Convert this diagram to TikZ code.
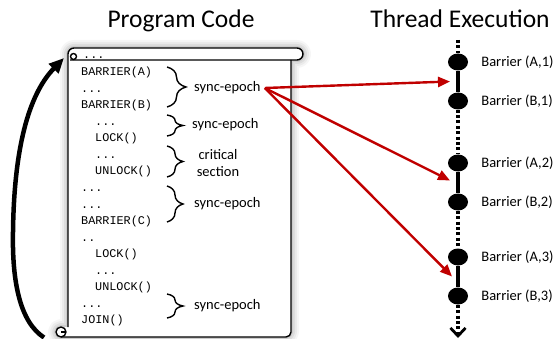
\documentclass[tikz,border=0pt]{standalone}
\usepackage{fontspec}
\setmainfont{Carlito}
\setmonofont{Liberation Mono}
\usetikzlibrary{arrows.meta,calc,decorations.pathreplacing,shapes.geometric,positioning}
\definecolor{arrowred}{HTML}{C00000}

% outer outline of the scroll (used for the soft shadow and the white paper)
\newcommand\scrollshape{(68,54) .. controls (68,50.7) and (70.7,48) .. (74,48) -- (297,48)
  .. controls (300.3,48) and (303,50.7) .. (303,54) .. controls (303,57.3) and (300.3,60) .. (297,60)
  -- (291,60) -- (291,332) .. controls (291,334.8) and (288.8,337) .. (286,337) -- (61,337)
  .. controls (58.2,337) and (56,334.8) .. (56,332) .. controls (56,329.2) and (58.2,327) .. (61,327)
  -- (68,327) -- cycle}

\begin{document}
\begin{tikzpicture}[x=1pt,y=-1pt,
  title/.style={font=\fontsize{25.5}{30}\selectfont, anchor=base, inner sep=0},
  code/.style={font=\ttfamily\fontsize{11.8}{14}\selectfont, anchor=base west, inner sep=0},
  lbl/.style={font=\fontsize{14.5}{16.5}\selectfont, anchor=west, inner sep=0},
  blabel/.style={font=\fontsize{14.5}{16.5}\selectfont, anchor=west, inner sep=0},
  scrollline/.style={draw=black, line width=1.4pt, line join=round},
  epochbrace/.style={decorate, decoration={brace, amplitude=#1}, line width=1.4pt},
  dot/.style={ellipse, fill=black, minimum width=20pt, minimum height=17pt, inner sep=0},
  solidseg/.style={line width=4pt},
  dotseg/.style={line width=4pt, dash pattern=on 3pt off 2.4pt},
  redarrow/.style={draw=arrowred, line width=2.4pt, -{Triangle[length=12pt,width=10pt]}},
  looparrow/.style={line width=4.5pt, -{Triangle[length=15pt,width=13pt]}}
]
\useasboundingbox (0,0) rectangle (556,339);

% ---- titles ----
\node[title] (pctitle) at (181,28) {Program Code};
\node[title] (tetitle) at (460,28) {Thread Execution};

% ---- scroll: shadow, paper, outline ----
\foreach \w/\o in {16/0.035,12/0.045,8/0.06,4/0.08}{
  \draw[line width=\w pt, black, opacity=\o, line join=round] \scrollshape;
}
\fill[white] \scrollshape;
\draw[scrollline] (68,327) -- (68,54) .. controls (68,50.7) and (70.7,48) .. (74,48) -- (297,48)
  .. controls (300.3,48) and (303,50.7) .. (303,54) .. controls (303,57.3) and (300.3,60) .. (297,60)
  -- (70,60);
\draw[scrollline] (73.5,56.5) circle[radius=3];
\draw[scrollline] (291,60) -- (291,332) .. controls (291,334.8) and (288.8,337) .. (286,337) -- (61,337);
\draw[scrollline] (61,332) circle[radius=5];
\draw[scrollline] (61,332) -- (66,332);

% ---- program text ----
\node[code] (ctop) at (83,58.5) {...};
\node[code] (c0)  at (81,76)    {BARRIER(A)};
\node[code] (c1)  at (81,92.5)  {...};
\node[code] (c2)  at (81,109)   {BARRIER(B)};
\node[code] (c3)  at (95,125.5) {...};
\node[code] (c4)  at (95,142)   {LOCK()};
\node[code] (c5)  at (95,158.5) {...};
\node[code] (c6)  at (95,175)   {UNLOCK()};
\node[code] (c7)  at (81,191.5) {...};
\node[code] (c8)  at (81,208)   {...};
\node[code] (c9)  at (81,224.5) {BARRIER(C)};
\node[code] (c10) at (81,241)   {..};
\node[code] (c11) at (95,257.5) {LOCK()};
\node[code] (c12) at (95,274)   {...};
\node[code] (c13) at (95,290.5) {UNLOCK()};
\node[code] (c14) at (81,307)   {...};
\node[code] (c15) at (81,323.5) {JOIN()};

% ---- epoch braces and their labels ----
\draw[epochbrace=19pt] (167,67) -- (167,107);
\draw[epochbrace=16pt] (167,115) -- (167,136);
\draw[epochbrace=16pt] (167,146) -- (167,177);
\draw[epochbrace=16pt] (167,186) -- (167,222);
\draw[epochbrace=16pt] (167,294) -- (167,318);
\node[lbl] (se1) at (194,88) {sync-epoch};
\node[lbl] (se2) at (192,125) {sync-epoch};
\node[lbl, anchor=center, align=center] (crit) at (218,163) {critical\\section};
\node[lbl] (se4) at (194,204) {sync-epoch};
\node[lbl] (se5) at (194,306) {sync-epoch};

% ---- thread timeline ----
\node[dot] (a1) at (458,62) {};
\node[dot] (b1) at (458,101) {};
\node[dot] (a2) at (458,163) {};
\node[dot] (b2) at (458,202) {};
\node[dot] (a3) at (458,257) {};
\node[dot] (b3) at (458,296) {};
\coordinate (tstart) at (458,40);
\coordinate (tend) at (458,338);
\draw[dotseg] (tstart) -- (a1);
\draw[solidseg] (a1) -- (b1);
\draw[dotseg] (b1) -- (a2);
\draw[solidseg] (a2) -- (b2);
\draw[dotseg] (b2) -- (a3);
\draw[solidseg] (a3) -- (b3);
\draw[dotseg, -{Straight Barb[length=8pt,width=15pt,line width=2.8pt]}] (b3) -- (tend);

\node[blabel, right=13pt of a1] (la1) {Barrier (A,1)};
\node[blabel, right=13pt of b1] (lb1) {Barrier (B,1)};
\node[blabel, right=13pt of a2] (la2) {Barrier (A,2)};
\node[blabel, right=13pt of b2] (lb2) {Barrier (B,2)};
\node[blabel, right=13pt of a3] (la3) {Barrier (A,3)};
\node[blabel, right=13pt of b3] (lb3) {Barrier (B,3)};

% ---- epoch-to-execution arrows ----
\coordinate (src) at ($(se1.east)+(4,0)$);
\coordinate (m1) at ($(a1)!0.5!(b1)+(-8,0)$);
\coordinate (m2) at ($(a2)!0.5!(b2)+(-8,-2)$);
\coordinate (m3) at ($(a3)!0.5!(b3)+(-6,0)$);
\draw[redarrow] (src) -- (m1);
\draw[redarrow] (src) -- (m2);
\draw[redarrow] (src) -- (m3);

% ---- loop back from JOIN to the top of the program ----
\coordinate (loopstart) at (44,337.5);
\coordinate (looptip) at (64,58);
\draw[looparrow] (loopstart) .. controls (20,322) and (12,282) .. (13,232)
  .. controls (14,150) and (28,95) .. (looptip);
\end{tikzpicture}
\end{document}
